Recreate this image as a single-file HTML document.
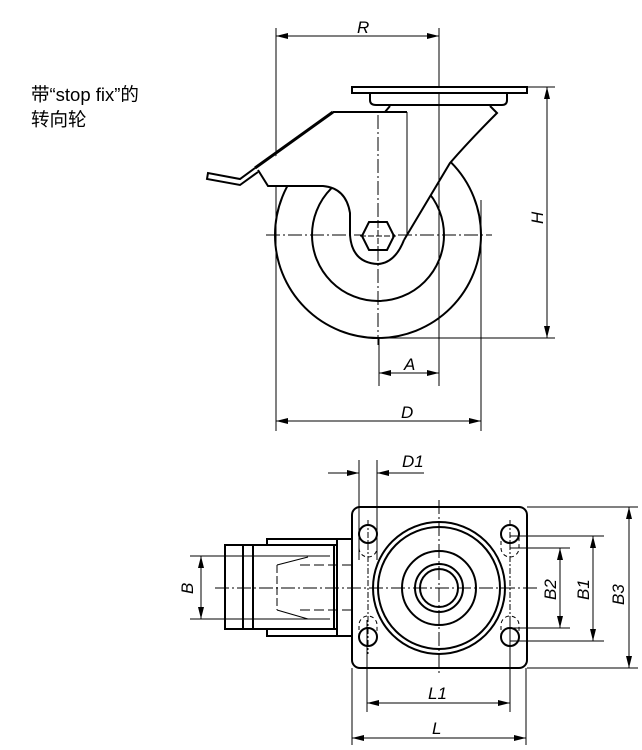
<!DOCTYPE html>
<html><head><meta charset="utf-8"><style>
html,body{margin:0;padding:0;background:#fff;width:642px;height:750px;overflow:hidden}
svg{display:block}
text{font-family:"Liberation Sans","Noto Sans CJK SC",sans-serif;font-style:italic;font-size:17px;fill:#000}
.t{font-style:normal;font-size:18.5px}
</style></head><body>
<svg width="642" height="750" viewBox="0 0 642 750" xmlns="http://www.w3.org/2000/svg">
<defs>
<marker id="a" viewBox="0 0 12 6" refX="12" refY="3" markerWidth="12" markerHeight="6" orient="auto-start-reverse" markerUnits="userSpaceOnUse"><path d="M0,0 L12,3 L0,6z" fill="#000"/></marker>
</defs>
<text class="t" x="31" y="101">带“stop fix”的</text>
<text class="t" x="31" y="126">转向轮</text>

<g fill="none" stroke="#000" stroke-width="1">
<line x1="276" y1="28" x2="276" y2="431"/>
<line x1="439" y1="28" x2="439" y2="386"/>
<line x1="481" y1="200" x2="481" y2="431"/>
<line x1="379" y1="338" x2="379" y2="386"/>
<line x1="276" y1="36" x2="439" y2="36" marker-start="url(#a)" marker-end="url(#a)"/>
<line x1="379" y1="373" x2="439" y2="373" marker-start="url(#a)" marker-end="url(#a)"/>
<line x1="276" y1="421" x2="481" y2="421" marker-start="url(#a)" marker-end="url(#a)"/>
<line x1="527" y1="87" x2="555" y2="87"/>
<line x1="378" y1="338" x2="555" y2="338"/>
<line x1="547" y1="87" x2="547" y2="338" marker-start="url(#a)" marker-end="url(#a)"/>
</g>
<g fill="none" stroke="#000" stroke-width="2">
<circle cx="378" cy="235" r="103"/>
<circle cx="378" cy="235" r="66"/>
</g>
<path d="M258,170 L333,112 L385,112 L390,106 L490,106 L497,113 Q470,140 450,163 L404,240 Q395,263 378,264 Q352,263 350,235 L350,213 Q346,188 323,186 L268,186 Z" fill="#fff" stroke="none"/>
<g fill="none" stroke="#000" stroke-width="1">
<line x1="378" y1="115" x2="378" y2="345" stroke-dasharray="14,3,2,3"/>
<line x1="266" y1="235" x2="492" y2="235" stroke-dasharray="14,3,2,3"/>
<line x1="407" y1="112" x2="407" y2="235"/>
<line x1="439" y1="93" x2="439" y2="386"/>
</g>
<g fill="none" stroke="#000" stroke-width="2">
<rect x="352" y="87" width="175" height="6" fill="#fff"/>
<path d="M370,93 L370,100 Q370,105 376,105 L502,105 Q507,105 507,100 L507,93"/>
<path d="M369,222 L387,222 L394,236 L387,250 L369,250 L362,236Z" fill="#fff"/>
<path d="M333,112 L407,112"/>
<path d="M385,112 L390,106"/>
<path d="M490,106 L497,113 Q470,140 450,163 L404,240" />
<path d="M258,170 L268,186 L323,186 Q346,188 350,213 L350,235 Q352,263 378,264 Q395,263 404,240"/>
<path d="M333,112 L255,168" stroke-width="3"/>
<path d="M255,168 L240,179 L208,173 L207,179 L240,185 L258,172"/>
</g>
<g stroke="#000" stroke-width="1">
<line x1="378" y1="222" x2="378" y2="250" stroke-dasharray="6,2"/>
<line x1="360" y1="236" x2="396" y2="236" stroke-dasharray="6,2"/>
</g>

<g fill="none" stroke="#000" stroke-width="1">
<line x1="359" y1="460" x2="359" y2="560"/>
<line x1="377" y1="460" x2="377" y2="560"/>
<line x1="328" y1="473" x2="359" y2="473" marker-end="url(#a)"/>
<line x1="424" y1="473" x2="377" y2="473" marker-end="url(#a)"/>
<line x1="352" y1="668" x2="352" y2="745"/>
<line x1="526" y1="668" x2="526" y2="745"/>
<line x1="367" y1="620" x2="367" y2="712"/>
<line x1="510" y1="620" x2="510" y2="712"/>
<line x1="367" y1="703" x2="510" y2="703" marker-start="url(#a)" marker-end="url(#a)"/>
<line x1="352" y1="738" x2="526" y2="738" marker-start="url(#a)" marker-end="url(#a)"/>
<line x1="527" y1="507" x2="638" y2="507"/>
<line x1="527" y1="668" x2="638" y2="668"/>
<line x1="510" y1="536" x2="604" y2="536"/>
<line x1="510" y1="641" x2="604" y2="641"/>
<line x1="510" y1="548" x2="570" y2="548"/>
<line x1="510" y1="628" x2="570" y2="628"/>
<line x1="629" y1="507" x2="629" y2="668" marker-start="url(#a)" marker-end="url(#a)"/>
<line x1="593" y1="536" x2="593" y2="641" marker-start="url(#a)" marker-end="url(#a)"/>
<line x1="560" y1="548" x2="560" y2="628" marker-start="url(#a)" marker-end="url(#a)"/>
<line x1="190" y1="556" x2="330" y2="556"/>
<line x1="190" y1="619" x2="330" y2="619"/>
<line x1="201" y1="556" x2="201" y2="619" marker-start="url(#a)" marker-end="url(#a)"/>
<line x1="215" y1="588" x2="540" y2="588" stroke-dasharray="14,3,2,3"/>
<line x1="439" y1="500" x2="439" y2="676" stroke-dasharray="14,3,2,3"/>
<line x1="300" y1="565" x2="352" y2="565" stroke-dasharray="10,4"/>
<line x1="300" y1="610" x2="352" y2="610" stroke-dasharray="10,4"/>
<line x1="277" y1="565" x2="277" y2="610" stroke-dasharray="8,3"/>
<line x1="277" y1="565" x2="308" y2="557"/>
<line x1="277" y1="610" x2="308" y2="619"/>
<g stroke-dasharray="4,3">
<path d="M359,534 L359,548 A9,9 0 0 0 377,548 L377,534"/>
<path d="M501,534 L501,548 A9,9 0 0 0 519,548 L519,534"/>
<path d="M359,637 L359,625 A9,9 0 0 1 377,625 L377,637"/>
<path d="M501,637 L501,625 A9,9 0 0 1 519,625 L519,637"/>
</g>
<line x1="368" y1="520" x2="368" y2="654" stroke-dasharray="6,2,2,2"/>
<line x1="510" y1="520" x2="510" y2="654" stroke-dasharray="6,2,2,2"/>
</g>
<g fill="none" stroke="#000" stroke-width="2">
<rect x="352" y="507" width="175" height="161" rx="8"/>
<circle cx="439" cy="588" r="66"/>
<circle cx="439" cy="588" r="61"/>
<circle cx="439" cy="588" r="37"/>
<circle cx="439" cy="588" r="24"/>
<circle cx="439" cy="588" r="19"/>
<circle cx="368" cy="534" r="9"/>
<circle cx="510" cy="534" r="9"/>
<circle cx="368" cy="637" r="9"/>
<circle cx="510" cy="637" r="9"/>
<rect x="225" y="545" width="112" height="84"/>
<line x1="243" y1="545" x2="243" y2="629"/>
<line x1="253" y1="545" x2="253" y2="629"/>
<line x1="334" y1="545" x2="334" y2="629"/>
<path d="M267,545 L267,539 L352,539"/>
<path d="M267,629 L267,636 L352,636"/>
<line x1="337" y1="539" x2="337" y2="636"/>
</g>

<text x="357" y="33">R</text>
<text x="404" y="370">A</text>
<text x="401" y="418">D</text>
<text x="402" y="467">D1</text>
<text x="428" y="699">L1</text>
<text x="432" y="734">L</text>
<text transform="translate(543,224) rotate(-90)">H</text>
<text transform="translate(193,594) rotate(-90)">B</text>
<text transform="translate(556,600) rotate(-90)">B2</text>
<text transform="translate(589,600) rotate(-90)">B1</text>
<text transform="translate(624,605) rotate(-90)">B3</text>
</svg>
</body></html>
